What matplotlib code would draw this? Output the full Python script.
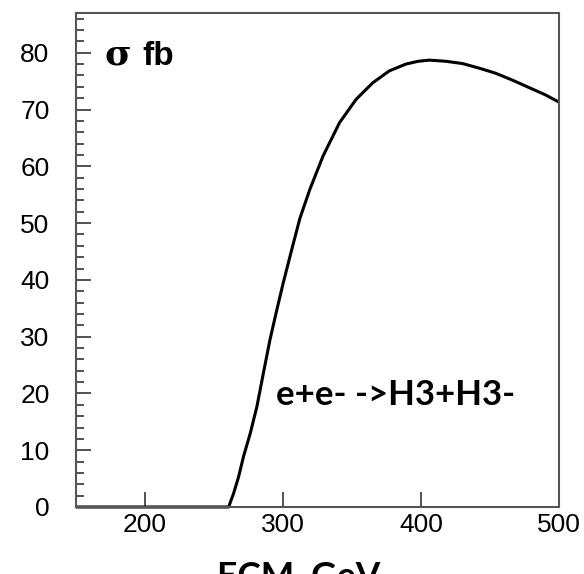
import matplotlib.pyplot as plt
from matplotlib.ticker import MultipleLocator

# cross section of e+e- -> H3+H3- versus centre-of-mass energy
ecm = [150, 200, 250, 260.6, 264.2, 267.8, 271.4, 276.3, 281.1, 285.8,
       290.6, 295.5, 300.2, 306.3, 312.2, 319.4, 329, 341, 353, 365, 377,
       389, 398, 406, 418, 430, 442, 454, 466, 478, 490, 500]
sigma = [0.0, 0.0, 0.0, 0.0, 2.4, 5.3, 8.9, 13.0, 17.7, 23.6,
         29.5, 34.7, 39.5, 45.3, 50.8, 55.9, 61.8, 67.7, 71.8, 74.7, 76.8,
         78.0, 78.5, 78.7, 78.5, 78.1, 77.3, 76.4, 75.2, 73.9, 72.6, 71.3]

fig = plt.figure(figsize=(5.84, 5.74), dpi=100)
ax = fig.add_axes([76 / 584, 1 - 507 / 574, 483 / 584, 494 / 574])

ax.plot(ecm, sigma, color='black', lw=2.2, solid_capstyle='butt',
        solid_joinstyle='round', clip_on=False)

ax.set_xlim(150, 500)
ax.set_ylim(0, 87)
ax.set_xticks([200, 300, 400, 500])
ax.yaxis.set_major_locator(MultipleLocator(10))
ax.yaxis.set_minor_locator(MultipleLocator(2))

for s in ax.spines.values():
    s.set_color('#555555')
    s.set_linewidth(1.5)

ax.tick_params(axis='both', which='both', direction='in', color='#333333',
               labelsize=19)
ax.tick_params(axis='y', which='major', length=11, width=1.2, pad=19)
ax.tick_params(axis='y', which='minor', length=6, width=1.2)
ax.tick_params(axis='x', which='major', length=11, width=1.2, pad=4)
for lbl in ax.get_xticklabels() + ax.get_yticklabels():
    lbl.set_family('Liberation Sans')

ax.text(0.06, 0.895, 'σ', transform=ax.transAxes, fontsize=26,
        family='DejaVu Serif', fontweight='bold', va='baseline')
ax.text(0.138, 0.895, 'fb', transform=ax.transAxes, fontsize=24,
        family='Liberation Sans', fontweight='bold', va='baseline')
ax.text(0.415, 0.206, 'e+e- ->H3+H3-', transform=ax.transAxes,
        fontsize=25, family='Lato', fontweight='bold', va='baseline')

fig.text(217 / 584, 1 - 586 / 574, 'ECM, GeV', fontsize=25.5, family='Lato',
         fontweight='bold', va='baseline')

fig.savefig('out.png', dpi=100)
